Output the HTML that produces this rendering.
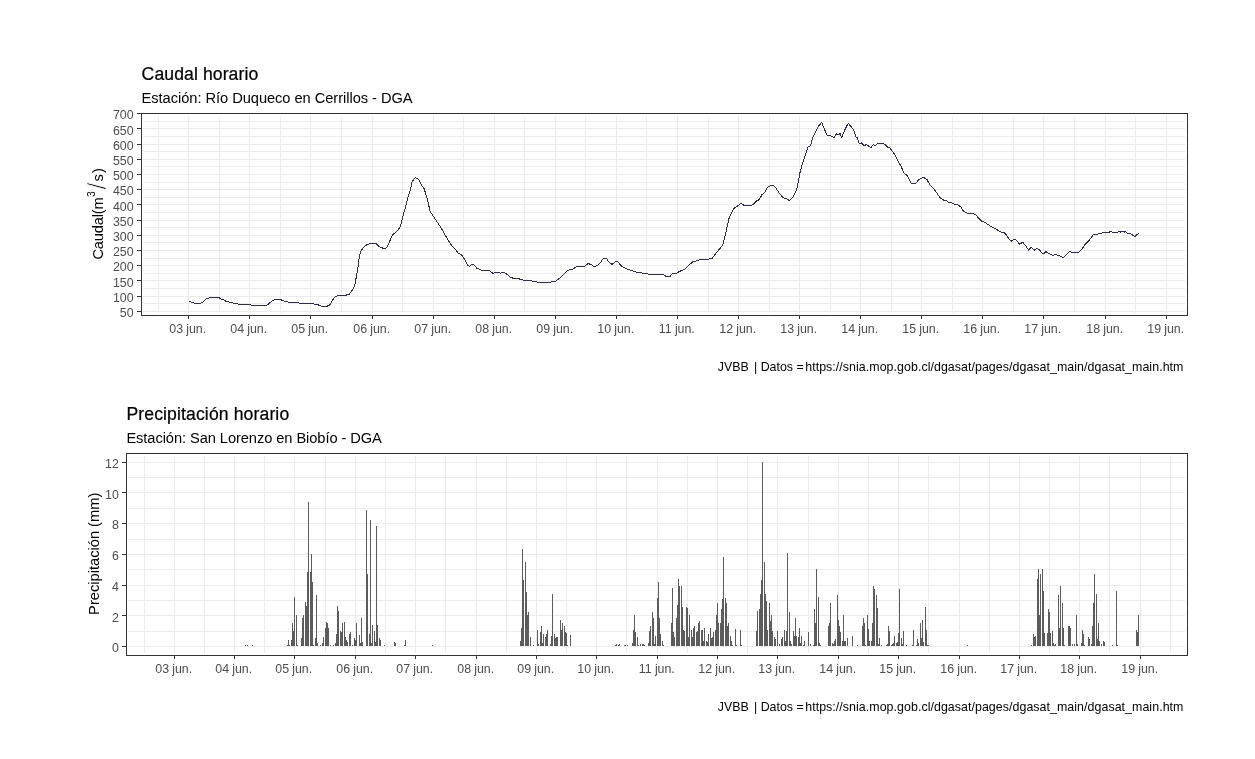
<!DOCTYPE html>
<html lang="es"><head><meta charset="utf-8"><title>Caudal y precipitación horario</title>
<style>
html,body{margin:0;padding:0;background:#fff;}
body{width:1255px;height:759px;overflow:hidden;}
svg{display:block;font-family:"Liberation Sans", Arial, sans-serif;}
.t{font-size:17.6px;fill:#000;stroke:#000;stroke-width:0.22px;}
.s{font-size:14.67px;fill:#000;}
.a{font-size:14.67px;fill:#000;}
.k{font-size:12.4px;fill:#4d4d4d;}
.c{font-size:12.4px;fill:#000;}
.gM{stroke:#ebebeb;stroke-width:1;}
.gm{stroke:#ececec;stroke-width:1;}
.tk{stroke:#333;stroke-width:1;}
.pb{fill:none;stroke:#333;stroke-width:1.2;}
</style></head><body>
<svg width="1255" height="759" viewBox="0 0 1255 759">
<rect width="1255" height="759" fill="#fff"/>

<g shape-rendering="crispEdges">
<line class="gm" x1="143.0" x2="1185.0" y1="303.5" y2="303.5"/>
<line class="gm" x1="143.0" x2="1185.0" y1="288.5" y2="288.5"/>
<line class="gm" x1="143.0" x2="1185.0" y1="273.5" y2="273.5"/>
<line class="gm" x1="143.0" x2="1185.0" y1="258.5" y2="258.5"/>
<line class="gm" x1="143.0" x2="1185.0" y1="242.5" y2="242.5"/>
<line class="gm" x1="143.0" x2="1185.0" y1="227.5" y2="227.5"/>
<line class="gm" x1="143.0" x2="1185.0" y1="212.5" y2="212.5"/>
<line class="gm" x1="143.0" x2="1185.0" y1="197.5" y2="197.5"/>
<line class="gm" x1="143.0" x2="1185.0" y1="182.5" y2="182.5"/>
<line class="gm" x1="143.0" x2="1185.0" y1="166.5" y2="166.5"/>
<line class="gm" x1="143.0" x2="1185.0" y1="151.5" y2="151.5"/>
<line class="gm" x1="143.0" x2="1185.0" y1="136.5" y2="136.5"/>
<line class="gm" x1="143.0" x2="1185.0" y1="121.5" y2="121.5"/>
<line class="gm" x1="158.5" x2="158.5" y1="116.0" y2="313.0"/>
<line class="gm" x1="219.5" x2="219.5" y1="116.0" y2="313.0"/>
<line class="gm" x1="280.5" x2="280.5" y1="116.0" y2="313.0"/>
<line class="gm" x1="341.5" x2="341.5" y1="116.0" y2="313.0"/>
<line class="gm" x1="402.5" x2="402.5" y1="116.0" y2="313.0"/>
<line class="gm" x1="463.5" x2="463.5" y1="116.0" y2="313.0"/>
<line class="gm" x1="524.5" x2="524.5" y1="116.0" y2="313.0"/>
<line class="gm" x1="585.5" x2="585.5" y1="116.0" y2="313.0"/>
<line class="gm" x1="646.5" x2="646.5" y1="116.0" y2="313.0"/>
<line class="gm" x1="708.5" x2="708.5" y1="116.0" y2="313.0"/>
<line class="gm" x1="769.5" x2="769.5" y1="116.0" y2="313.0"/>
<line class="gm" x1="830.5" x2="830.5" y1="116.0" y2="313.0"/>
<line class="gm" x1="891.5" x2="891.5" y1="116.0" y2="313.0"/>
<line class="gm" x1="952.5" x2="952.5" y1="116.0" y2="313.0"/>
<line class="gm" x1="1013.5" x2="1013.5" y1="116.0" y2="313.0"/>
<line class="gm" x1="1074.5" x2="1074.5" y1="116.0" y2="313.0"/>
<line class="gm" x1="1135.5" x2="1135.5" y1="116.0" y2="313.0"/>
<line class="gM" x1="143.0" x2="1185.0" y1="311.5" y2="311.5"/>
<line class="gM" x1="143.0" x2="1185.0" y1="296.5" y2="296.5"/>
<line class="gM" x1="143.0" x2="1185.0" y1="280.5" y2="280.5"/>
<line class="gM" x1="143.0" x2="1185.0" y1="265.5" y2="265.5"/>
<line class="gM" x1="143.0" x2="1185.0" y1="250.5" y2="250.5"/>
<line class="gM" x1="143.0" x2="1185.0" y1="235.5" y2="235.5"/>
<line class="gM" x1="143.0" x2="1185.0" y1="220.5" y2="220.5"/>
<line class="gM" x1="143.0" x2="1185.0" y1="204.5" y2="204.5"/>
<line class="gM" x1="143.0" x2="1185.0" y1="189.5" y2="189.5"/>
<line class="gM" x1="143.0" x2="1185.0" y1="174.5" y2="174.5"/>
<line class="gM" x1="143.0" x2="1185.0" y1="159.5" y2="159.5"/>
<line class="gM" x1="143.0" x2="1185.0" y1="144.5" y2="144.5"/>
<line class="gM" x1="143.0" x2="1185.0" y1="128.5" y2="128.5"/>
<line class="gM" x1="188.5" x2="188.5" y1="116.0" y2="313.0"/>
<line class="gM" x1="249.5" x2="249.5" y1="116.0" y2="313.0"/>
<line class="gM" x1="310.5" x2="310.5" y1="116.0" y2="313.0"/>
<line class="gM" x1="372.5" x2="372.5" y1="116.0" y2="313.0"/>
<line class="gM" x1="433.5" x2="433.5" y1="116.0" y2="313.0"/>
<line class="gM" x1="494.5" x2="494.5" y1="116.0" y2="313.0"/>
<line class="gM" x1="555.5" x2="555.5" y1="116.0" y2="313.0"/>
<line class="gM" x1="616.5" x2="616.5" y1="116.0" y2="313.0"/>
<line class="gM" x1="677.5" x2="677.5" y1="116.0" y2="313.0"/>
<line class="gM" x1="738.5" x2="738.5" y1="116.0" y2="313.0"/>
<line class="gM" x1="799.5" x2="799.5" y1="116.0" y2="313.0"/>
<line class="gM" x1="860.5" x2="860.5" y1="116.0" y2="313.0"/>
<line class="gM" x1="921.5" x2="921.5" y1="116.0" y2="313.0"/>
<line class="gM" x1="982.5" x2="982.5" y1="116.0" y2="313.0"/>
<line class="gM" x1="1043.5" x2="1043.5" y1="116.0" y2="313.0"/>
<line class="gM" x1="1105.5" x2="1105.5" y1="116.0" y2="313.0"/>
<line class="gM" x1="1166.5" x2="1166.5" y1="116.0" y2="313.0"/>
</g>
<polyline points="189.2,301.2 192.8,302.7 196.6,303.6 200.4,303.6 203.6,301.4 206.4,298.6 209.3,298.0 211.2,297.2 218.3,297.2 220.8,298.9 224.0,299.9 225.9,301.4 233.6,303.1 239.9,304.4 249.5,304.6 252.1,305.5 266.7,305.5 269.3,303.3 272.5,300.4 275.7,299.5 280.1,299.5 284.6,301.2 289.7,302.4 297.3,302.7 300.5,303.3 311.4,303.6 317.1,304.4 321.6,306.3 326.7,306.5 330.0,304.7 333.7,298.2 337.4,295.5 344.8,295.5 349.4,294.2 353.1,289.0 354.9,284.4 357.7,269.6 359.5,254.9 361.4,250.3 365.1,245.6 370.6,243.4 376.1,243.4 378.9,246.6 383.5,248.4 386.3,248.0 389.0,242.9 392.7,234.6 396.4,231.8 400.1,227.2 402.9,216.1 405.6,206.9 408.4,195.8 410.3,190.3 412.1,182.0 415.2,177.4 418.6,179.6 421.3,184.8 424.1,188.5 426.9,197.7 430.2,211.5 433.3,216.1 437.0,221.7 440.7,227.2 444.4,233.7 448.1,240.1 451.8,245.6 454.5,248.4 458.2,253.0 461.4,254.5 464.7,259.5 467.5,265.0 469.9,266.3 471.7,264.5 474.3,265.0 476.7,268.2 478.5,268.7 480.0,269.3 482.2,270.6 482.9,270.3 489.4,270.3 493.0,273.5 496.7,272.2 500.3,273.2 503.9,272.2 507.5,274.6 510.4,277.2 513.3,278.3 518.4,278.7 523.5,280.1 530.0,280.6 538.0,282.3 543.8,282.3 546.7,283.0 549.6,282.3 555.4,281.2 559.7,278.3 564.1,273.9 567.7,270.3 572.8,269.1 576.4,266.7 584.3,266.4 588.0,263.5 590.9,264.5 594.5,266.7 596.7,265.9 600.3,263.0 603.2,258.4 606.4,258.4 609.0,262.3 612.2,264.5 615.5,261.3 617.7,261.6 620.6,265.2 623.5,267.4 626.4,268.8 630.0,270.1 635.5,272.0 642.6,273.1 649.8,274.3 663.2,274.3 665.6,276.2 670.3,276.2 672.4,273.6 676.6,273.1 680.6,270.9 684.5,269.3 689.3,264.9 693.2,261.4 697.2,260.9 701.1,259.3 708.3,259.3 712.2,258.2 716.2,253.0 720.1,248.3 722.5,245.6 724.1,239.6 726.4,230.1 728.8,219.0 731.2,213.5 734.3,207.9 737.5,206.0 741.0,203.5 743.8,205.1 748.6,206.0 753.3,204.5 756.5,200.8 759.3,199.7 762.0,194.5 764.4,192.9 767.5,187.4 769.1,186.1 773.1,185.3 775.5,187.4 779.4,193.4 783.2,197.7 786.3,198.5 789.2,200.6 792.6,197.7 795.8,191.4 797.4,186.7 799.8,173.2 802.9,162.2 805.3,155.1 808.1,146.7 810.4,146.0 812.9,136.9 815.6,132.1 818.7,125.8 820.3,124.5 821.6,122.3 823.5,127.1 827.0,135.0 830.3,135.3 833.8,137.7 836.6,133.7 838.2,135.0 840.1,133.7 841.7,137.2 844.5,130.6 846.4,126.6 848.3,123.4 850.4,125.8 853.5,129.8 855.9,136.9 857.5,138.1 859.1,143.2 861.4,142.9 864.6,146.0 866.2,144.5 870.9,147.6 873.3,144.5 874.9,146.0 878.0,143.2 881.2,143.2 885.1,144.5 887.5,147.2 889.9,147.9 892.3,151.4 894.6,154.3 897.8,160.6 900.9,166.1 904.1,173.2 906.5,174.8 908.9,178.8 911.2,183.0 916.0,183.0 919.1,179.2 923.6,177.5 927.0,179.6 930.0,184.9 932.9,187.8 936.5,192.6 939.9,197.4 943.0,199.9 946.2,200.6 948.1,202.0 951.7,202.8 954.6,204.2 957.5,204.9 960.7,206.7 963.6,211.4 967.4,213.2 972.0,213.3 975.7,214.8 978.6,218.0 981.9,221.2 985.1,222.6 988.0,224.5 991.6,227.0 995.2,228.4 998.1,230.3 1001.0,232.2 1003.9,232.5 1006.8,235.4 1009.0,239.0 1011.2,241.4 1013.8,239.0 1016.7,240.4 1019.6,244.1 1022.8,242.3 1025.7,245.8 1028.6,250.1 1031.4,247.2 1034.3,250.1 1037.2,248.1 1040.1,250.6 1043.0,254.2 1045.9,251.6 1048.8,253.5 1052.5,255.4 1055.8,254.5 1059.7,255.9 1063.3,257.5 1066.2,254.9 1069.9,251.0 1071.6,252.4 1072.8,252.3 1078.4,252.4 1081.6,249.6 1084.2,245.5 1087.4,242.2 1091.6,237.4 1093.2,234.3 1097.4,234.3 1099.0,233.4 1101.6,233.2 1103.2,232.4 1109.0,232.4 1110.9,231.2 1112.2,232.4 1117.4,232.4 1118.7,231.2 1120.4,232.2 1121.7,231.2 1123.8,231.3 1124.8,232.4 1125.7,231.6 1127.5,233.4 1130.6,233.5 1132.7,235.3 1134.8,236.6 1136.9,234.8 1138.7,233.4" fill="none" stroke="#2e2e48" stroke-width="1" stroke-linejoin="round" shape-rendering="crispEdges"/>
<rect class="pb" x="141.5" y="113.5" width="1046.0" height="202.0" shape-rendering="crispEdges"/>
<g shape-rendering="crispEdges">
<line class="tk" x1="137.0" x2="141.5" y1="311.5" y2="311.5"/>
<line class="tk" x1="137.0" x2="141.5" y1="296.5" y2="296.5"/>
<line class="tk" x1="137.0" x2="141.5" y1="280.5" y2="280.5"/>
<line class="tk" x1="137.0" x2="141.5" y1="265.5" y2="265.5"/>
<line class="tk" x1="137.0" x2="141.5" y1="250.5" y2="250.5"/>
<line class="tk" x1="137.0" x2="141.5" y1="235.5" y2="235.5"/>
<line class="tk" x1="137.0" x2="141.5" y1="220.5" y2="220.5"/>
<line class="tk" x1="137.0" x2="141.5" y1="204.5" y2="204.5"/>
<line class="tk" x1="137.0" x2="141.5" y1="189.5" y2="189.5"/>
<line class="tk" x1="137.0" x2="141.5" y1="174.5" y2="174.5"/>
<line class="tk" x1="137.0" x2="141.5" y1="159.5" y2="159.5"/>
<line class="tk" x1="137.0" x2="141.5" y1="144.5" y2="144.5"/>
<line class="tk" x1="137.0" x2="141.5" y1="128.5" y2="128.5"/>
<line class="tk" x1="137.0" x2="141.5" y1="113.5" y2="113.5"/>
<line class="tk" x1="188.5" x2="188.5" y1="315.5" y2="319.0"/>
<line class="tk" x1="249.5" x2="249.5" y1="315.5" y2="319.0"/>
<line class="tk" x1="310.5" x2="310.5" y1="315.5" y2="319.0"/>
<line class="tk" x1="372.5" x2="372.5" y1="315.5" y2="319.0"/>
<line class="tk" x1="433.5" x2="433.5" y1="315.5" y2="319.0"/>
<line class="tk" x1="494.5" x2="494.5" y1="315.5" y2="319.0"/>
<line class="tk" x1="555.5" x2="555.5" y1="315.5" y2="319.0"/>
<line class="tk" x1="616.5" x2="616.5" y1="315.5" y2="319.0"/>
<line class="tk" x1="677.5" x2="677.5" y1="315.5" y2="319.0"/>
<line class="tk" x1="738.5" x2="738.5" y1="315.5" y2="319.0"/>
<line class="tk" x1="799.5" x2="799.5" y1="315.5" y2="319.0"/>
<line class="tk" x1="860.5" x2="860.5" y1="315.5" y2="319.0"/>
<line class="tk" x1="921.5" x2="921.5" y1="315.5" y2="319.0"/>
<line class="tk" x1="982.5" x2="982.5" y1="315.5" y2="319.0"/>
<line class="tk" x1="1043.5" x2="1043.5" y1="315.5" y2="319.0"/>
<line class="tk" x1="1105.5" x2="1105.5" y1="315.5" y2="319.0"/>
<line class="tk" x1="1166.5" x2="1166.5" y1="315.5" y2="319.0"/>
</g>
<text class="k" x="133.6" y="316.9" text-anchor="end">50</text>
<text class="k" x="133.6" y="301.7" text-anchor="end">100</text>
<text class="k" x="133.6" y="286.5" text-anchor="end">150</text>
<text class="k" x="133.6" y="271.3" text-anchor="end">200</text>
<text class="k" x="133.6" y="256.1" text-anchor="end">250</text>
<text class="k" x="133.6" y="240.9" text-anchor="end">300</text>
<text class="k" x="133.6" y="225.7" text-anchor="end">350</text>
<text class="k" x="133.6" y="210.5" text-anchor="end">400</text>
<text class="k" x="133.6" y="195.3" text-anchor="end">450</text>
<text class="k" x="133.6" y="180.2" text-anchor="end">500</text>
<text class="k" x="133.6" y="165.0" text-anchor="end">550</text>
<text class="k" x="133.6" y="149.8" text-anchor="end">600</text>
<text class="k" x="133.6" y="134.6" text-anchor="end">650</text>
<text class="k" x="133.6" y="119.4" text-anchor="end">700</text>
<text class="k" x="187.7" y="332.8" text-anchor="middle" letter-spacing="-0.08">03 jun.</text>
<text class="k" x="248.7" y="332.8" text-anchor="middle" letter-spacing="-0.08">04 jun.</text>
<text class="k" x="309.7" y="332.8" text-anchor="middle" letter-spacing="-0.08">05 jun.</text>
<text class="k" x="371.7" y="332.8" text-anchor="middle" letter-spacing="-0.08">06 jun.</text>
<text class="k" x="432.7" y="332.8" text-anchor="middle" letter-spacing="-0.08">07 jun.</text>
<text class="k" x="493.7" y="332.8" text-anchor="middle" letter-spacing="-0.08">08 jun.</text>
<text class="k" x="554.7" y="332.8" text-anchor="middle" letter-spacing="-0.08">09 jun.</text>
<text class="k" x="615.7" y="332.8" text-anchor="middle" letter-spacing="-0.08">10 jun.</text>
<text class="k" x="676.7" y="332.8" text-anchor="middle" letter-spacing="-0.08">11 jun.</text>
<text class="k" x="737.7" y="332.8" text-anchor="middle" letter-spacing="-0.08">12 jun.</text>
<text class="k" x="798.7" y="332.8" text-anchor="middle" letter-spacing="-0.08">13 jun.</text>
<text class="k" x="859.7" y="332.8" text-anchor="middle" letter-spacing="-0.08">14 jun.</text>
<text class="k" x="920.7" y="332.8" text-anchor="middle" letter-spacing="-0.08">15 jun.</text>
<text class="k" x="981.7" y="332.8" text-anchor="middle" letter-spacing="-0.08">16 jun.</text>
<text class="k" x="1042.7" y="332.8" text-anchor="middle" letter-spacing="-0.08">17 jun.</text>
<text class="k" x="1104.7" y="332.8" text-anchor="middle" letter-spacing="-0.08">18 jun.</text>
<text class="k" x="1165.7" y="332.8" text-anchor="middle" letter-spacing="-0.08">19 jun.</text>
<text class="t" x="141.6" y="79.6" textLength="116.6">Caudal horario</text>
<text class="s" x="141.6" y="103.2" textLength="271">Estación: Río Duqueco en Cerrillos - DGA</text>
<g transform="translate(103.2,0) rotate(-90)"><text class="a" x="-259.6" y="0" textLength="62.3">Caudal(m</text><text class="a" x="-197.1" y="-8.7" style="font-size:10.4px">3</text><text class="a" x="-189.4" y="3.1" style="font-size:25px;stroke:#fff;stroke-width:0.75px">/</text><text class="a" x="-181.6" y="0" style="letter-spacing:1.2px">s)</text></g>
<text class="c" y="370.7"><tspan x="717.7">JVBB</tspan><tspan x="754.0">| Datos =</tspan><tspan x="805.2" textLength="378.2">https://snia.mop.gob.cl/dgasat/pages/dgasat_main/dgasat_main.htm</tspan></text>
<g shape-rendering="crispEdges">
<line class="gm" x1="128.0" x2="1185.0" y1="631.5" y2="631.5"/>
<line class="gm" x1="128.0" x2="1185.0" y1="600.5" y2="600.5"/>
<line class="gm" x1="128.0" x2="1185.0" y1="569.5" y2="569.5"/>
<line class="gm" x1="128.0" x2="1185.0" y1="539.5" y2="539.5"/>
<line class="gm" x1="128.0" x2="1185.0" y1="508.5" y2="508.5"/>
<line class="gm" x1="128.0" x2="1185.0" y1="477.5" y2="477.5"/>
<line class="gm" x1="144.5" x2="144.5" y1="456.0" y2="653.0"/>
<line class="gm" x1="204.5" x2="204.5" y1="456.0" y2="653.0"/>
<line class="gm" x1="264.5" x2="264.5" y1="456.0" y2="653.0"/>
<line class="gm" x1="325.5" x2="325.5" y1="456.0" y2="653.0"/>
<line class="gm" x1="385.5" x2="385.5" y1="456.0" y2="653.0"/>
<line class="gm" x1="445.5" x2="445.5" y1="456.0" y2="653.0"/>
<line class="gm" x1="506.5" x2="506.5" y1="456.0" y2="653.0"/>
<line class="gm" x1="566.5" x2="566.5" y1="456.0" y2="653.0"/>
<line class="gm" x1="626.5" x2="626.5" y1="456.0" y2="653.0"/>
<line class="gm" x1="687.5" x2="687.5" y1="456.0" y2="653.0"/>
<line class="gm" x1="747.5" x2="747.5" y1="456.0" y2="653.0"/>
<line class="gm" x1="808.5" x2="808.5" y1="456.0" y2="653.0"/>
<line class="gm" x1="868.5" x2="868.5" y1="456.0" y2="653.0"/>
<line class="gm" x1="928.5" x2="928.5" y1="456.0" y2="653.0"/>
<line class="gm" x1="989.5" x2="989.5" y1="456.0" y2="653.0"/>
<line class="gm" x1="1049.5" x2="1049.5" y1="456.0" y2="653.0"/>
<line class="gm" x1="1109.5" x2="1109.5" y1="456.0" y2="653.0"/>
<line class="gm" x1="1170.5" x2="1170.5" y1="456.0" y2="653.0"/>
<line class="gM" x1="128.0" x2="1185.0" y1="646.5" y2="646.5"/>
<line class="gM" x1="128.0" x2="1185.0" y1="615.5" y2="615.5"/>
<line class="gM" x1="128.0" x2="1185.0" y1="585.5" y2="585.5"/>
<line class="gM" x1="128.0" x2="1185.0" y1="554.5" y2="554.5"/>
<line class="gM" x1="128.0" x2="1185.0" y1="523.5" y2="523.5"/>
<line class="gM" x1="128.0" x2="1185.0" y1="492.5" y2="492.5"/>
<line class="gM" x1="128.0" x2="1185.0" y1="462.5" y2="462.5"/>
<line class="gM" x1="174.5" x2="174.5" y1="456.0" y2="653.0"/>
<line class="gM" x1="234.5" x2="234.5" y1="456.0" y2="653.0"/>
<line class="gM" x1="294.5" x2="294.5" y1="456.0" y2="653.0"/>
<line class="gM" x1="355.5" x2="355.5" y1="456.0" y2="653.0"/>
<line class="gM" x1="415.5" x2="415.5" y1="456.0" y2="653.0"/>
<line class="gM" x1="476.5" x2="476.5" y1="456.0" y2="653.0"/>
<line class="gM" x1="536.5" x2="536.5" y1="456.0" y2="653.0"/>
<line class="gM" x1="596.5" x2="596.5" y1="456.0" y2="653.0"/>
<line class="gM" x1="657.5" x2="657.5" y1="456.0" y2="653.0"/>
<line class="gM" x1="717.5" x2="717.5" y1="456.0" y2="653.0"/>
<line class="gM" x1="777.5" x2="777.5" y1="456.0" y2="653.0"/>
<line class="gM" x1="838.5" x2="838.5" y1="456.0" y2="653.0"/>
<line class="gM" x1="898.5" x2="898.5" y1="456.0" y2="653.0"/>
<line class="gM" x1="959.5" x2="959.5" y1="456.0" y2="653.0"/>
<line class="gM" x1="1019.5" x2="1019.5" y1="456.0" y2="653.0"/>
<line class="gM" x1="1079.5" x2="1079.5" y1="456.0" y2="653.0"/>
<line class="gM" x1="1140.5" x2="1140.5" y1="456.0" y2="653.0"/>
</g>
<path d="M245 645h1V646h-1zM247 645h1V646h-1zM252 645h1V646h-1zM287 645h1V646h-1zM288 640h1V646h-1zM289 645h1V646h-1zM291 640h1V646h-1zM292 623h1V646h-1zM293 631h1V646h-1zM294 597h1V646h-1zM296 615h1V646h-1zM297 645h1V646h-1zM301 638h1V646h-1zM302 618h1V646h-1zM303 615h1V646h-1zM305 602h1V646h-1zM306 606h1V646h-1zM307 572h1V646h-1zM308 502h1V646h-1zM310 572h1V646h-1zM311 554h1V646h-1zM312 582h1V646h-1zM313 645h1V646h-1zM315 638h1V646h-1zM316 595h1V646h-1zM317 643h1V646h-1zM320 645h1V646h-1zM322 643h1V646h-1zM323 637h1V646h-1zM325 628h1V646h-1zM326 622h1V646h-1zM327 623h1V646h-1zM328 628h1V646h-1zM330 645h1V646h-1zM333 645h1V646h-1zM335 643h1V646h-1zM336 634h1V646h-1zM337 606h1V646h-1zM338 611h1V646h-1zM340 631h1V646h-1zM341 632h1V646h-1zM342 623h1V646h-1zM344 622h1V646h-1zM345 637h1V646h-1zM346 640h1V646h-1zM347 642h1V646h-1zM349 634h1V646h-1zM350 632h1V646h-1zM352 645h1V646h-1zM354 638h1V646h-1zM355 640h1V646h-1zM356 623h1V646h-1zM359 635h1V646h-1zM360 643h1V646h-1zM361 618h1V646h-1zM362 642h1V646h-1zM366 510h1V646h-1zM367 574h1V646h-1zM369 634h1V646h-1zM370 520h1V646h-1zM371 643h1V646h-1zM372 625h1V646h-1zM374 631h1V646h-1zM375 642h1V646h-1zM376 526h1V646h-1zM377 625h1V646h-1zM379 638h1V646h-1zM380 640h1V646h-1zM384 645h1V646h-1zM394 642h1V646h-1zM395 643h1V646h-1zM404 645h1V646h-1zM405 640h1V646h-1zM432 645h1V646h-1zM520 641h1V646h-1zM521 628h1V646h-1zM522 549h1V646h-1zM523 580h1V646h-1zM525 562h1V646h-1zM526 592h1V646h-1zM527 615h1V646h-1zM528 612h1V646h-1zM530 637h1V646h-1zM533 645h1V646h-1zM537 630h1V646h-1zM538 644h1V646h-1zM540 632h1V646h-1zM541 626h1V646h-1zM542 643h1V646h-1zM543 634h1V646h-1zM545 637h1V646h-1zM546 634h1V646h-1zM547 630h1V646h-1zM550 644h1V646h-1zM551 636h1V646h-1zM552 594h1V646h-1zM554 634h1V646h-1zM555 638h1V646h-1zM556 637h1V646h-1zM557 637h1V646h-1zM560 620h1V646h-1zM561 630h1V646h-1zM562 623h1V646h-1zM564 626h1V646h-1zM565 632h1V646h-1zM566 633h1V646h-1zM567 645h1V646h-1zM570 635h1V646h-1zM615 645h1V646h-1zM616 644h1V646h-1zM618 645h1V646h-1zM619 644h1V646h-1zM624 645h1V646h-1zM625 645h1V646h-1zM627 645h1V646h-1zM632 643h1V646h-1zM633 630h1V646h-1zM634 615h1V646h-1zM635 632h1V646h-1zM637 637h1V646h-1zM638 645h1V646h-1zM640 644h1V646h-1zM642 644h1V646h-1zM643 644h1V646h-1zM644 645h1V646h-1zM648 643h1V646h-1zM649 631h1V646h-1zM650 626h1V646h-1zM652 612h1V646h-1zM653 618h1V646h-1zM654 644h1V646h-1zM655 636h1V646h-1zM657 598h1V646h-1zM658 582h1V646h-1zM659 618h1V646h-1zM660 634h1V646h-1zM662 641h1V646h-1zM663 645h1V646h-1zM671 623h1V646h-1zM672 588h1V646h-1zM673 632h1V646h-1zM674 637h1V646h-1zM676 618h1V646h-1zM677 605h1V646h-1zM678 579h1V646h-1zM679 586h1V646h-1zM681 586h1V646h-1zM682 607h1V646h-1zM683 630h1V646h-1zM684 631h1V646h-1zM686 607h1V646h-1zM687 608h1V646h-1zM688 637h1V646h-1zM689 615h1V646h-1zM691 630h1V646h-1zM692 637h1V646h-1zM693 628h1V646h-1zM694 626h1V646h-1zM696 632h1V646h-1zM697 631h1V646h-1zM698 623h1V646h-1zM699 621h1V646h-1zM701 630h1V646h-1zM702 630h1V646h-1zM703 641h1V646h-1zM704 628h1V646h-1zM706 641h1V646h-1zM707 642h1V646h-1zM708 634h1V646h-1zM710 628h1V646h-1zM711 638h1V646h-1zM712 637h1V646h-1zM713 632h1V646h-1zM715 630h1V646h-1zM716 615h1V646h-1zM717 603h1V646h-1zM718 623h1V646h-1zM720 623h1V646h-1zM721 609h1V646h-1zM722 599h1V646h-1zM723 557h1V646h-1zM725 598h1V646h-1zM726 603h1V646h-1zM727 626h1V646h-1zM728 623h1V646h-1zM730 636h1V646h-1zM731 641h1V646h-1zM732 645h1V646h-1zM735 629h1V646h-1zM736 645h1V646h-1zM740 630h1V646h-1zM741 645h1V646h-1zM756 631h1V646h-1zM757 611h1V646h-1zM759 609h1V646h-1zM760 594h1V646h-1zM761 580h1V646h-1zM762 462h1V646h-1zM764 562h1V646h-1zM765 594h1V646h-1zM766 601h1V646h-1zM767 630h1V646h-1zM769 603h1V646h-1zM770 621h1V646h-1zM771 615h1V646h-1zM772 631h1V646h-1zM774 637h1V646h-1zM775 639h1V646h-1zM777 631h1V646h-1zM779 644h1V646h-1zM781 639h1V646h-1zM782 637h1V646h-1zM784 630h1V646h-1zM785 641h1V646h-1zM786 631h1V646h-1zM787 553h1V646h-1zM789 612h1V646h-1zM790 641h1V646h-1zM791 644h1V646h-1zM793 631h1V646h-1zM794 636h1V646h-1zM795 618h1V646h-1zM796 636h1V646h-1zM798 637h1V646h-1zM799 628h1V646h-1zM800 643h1V646h-1zM801 636h1V646h-1zM803 645h1V646h-1zM804 641h1V646h-1zM808 632h1V646h-1zM810 644h1V646h-1zM813 645h1V646h-1zM814 609h1V646h-1zM815 623h1V646h-1zM816 569h1V646h-1zM818 597h1V646h-1zM819 643h1V646h-1zM820 645h1V646h-1zM828 626h1V646h-1zM829 623h1V646h-1zM830 603h1V646h-1zM832 643h1V646h-1zM833 644h1V646h-1zM834 641h1V646h-1zM835 639h1V646h-1zM837 595h1V646h-1zM838 620h1V646h-1zM839 626h1V646h-1zM840 632h1V646h-1zM842 641h1V646h-1zM843 615h1V646h-1zM844 641h1V646h-1zM845 641h1V646h-1zM847 638h1V646h-1zM852 636h1V646h-1zM857 645h1V646h-1zM862 626h1V646h-1zM863 618h1V646h-1zM864 623h1V646h-1zM865 645h1V646h-1zM867 615h1V646h-1zM868 629h1V646h-1zM869 641h1V646h-1zM871 641h1V646h-1zM872 623h1V646h-1zM873 586h1V646h-1zM874 589h1V646h-1zM876 595h1V646h-1zM877 608h1V646h-1zM878 644h1V646h-1zM879 638h1V646h-1zM881 645h1V646h-1zM886 645h1V646h-1zM887 644h1V646h-1zM888 626h1V646h-1zM889 631h1V646h-1zM891 645h1V646h-1zM892 644h1V646h-1zM893 643h1V646h-1zM894 636h1V646h-1zM896 643h1V646h-1zM897 642h1V646h-1zM898 633h1V646h-1zM899 589h1V646h-1zM901 638h1V646h-1zM902 644h1V646h-1zM903 631h1V646h-1zM906 645h1V646h-1zM912 645h1V646h-1zM913 630h1V646h-1zM916 645h1V646h-1zM917 639h1V646h-1zM918 643h1V646h-1zM920 623h1V646h-1zM921 638h1V646h-1zM922 620h1V646h-1zM923 642h1V646h-1zM925 607h1V646h-1zM926 630h1V646h-1zM927 645h1V646h-1zM928 645h1V646h-1zM967 645h1V646h-1zM1031 645h1V646h-1zM1033 634h1V646h-1zM1034 637h1V646h-1zM1035 636h1V646h-1zM1037 579h1V646h-1zM1038 569h1V646h-1zM1039 615h1V646h-1zM1040 574h1V646h-1zM1042 569h1V646h-1zM1043 591h1V646h-1zM1044 633h1V646h-1zM1047 633h1V646h-1zM1048 609h1V646h-1zM1049 612h1V646h-1zM1050 633h1V646h-1zM1052 631h1V646h-1zM1053 643h1V646h-1zM1054 645h1V646h-1zM1055 644h1V646h-1zM1058 595h1V646h-1zM1059 628h1V646h-1zM1060 586h1V646h-1zM1062 603h1V646h-1zM1063 628h1V646h-1zM1064 645h1V646h-1zM1068 626h1V646h-1zM1069 626h1V646h-1zM1070 628h1V646h-1zM1072 644h1V646h-1zM1074 644h1V646h-1zM1076 615h1V646h-1zM1077 644h1V646h-1zM1081 643h1V646h-1zM1082 630h1V646h-1zM1083 634h1V646h-1zM1084 645h1V646h-1zM1088 637h1V646h-1zM1089 639h1V646h-1zM1091 644h1V646h-1zM1092 626h1V646h-1zM1093 603h1V646h-1zM1094 574h1V646h-1zM1096 594h1V646h-1zM1097 639h1V646h-1zM1098 623h1V646h-1zM1099 641h1V646h-1zM1101 644h1V646h-1zM1103 641h1V646h-1zM1104 642h1V646h-1zM1112 645h1V646h-1zM1116 591h1V646h-1zM1117 645h1V646h-1zM1136 630h1V646h-1zM1137 632h1V646h-1zM1138 615h1V646h-1z" fill="#5c5c5c" shape-rendering="crispEdges"/>
<rect class="pb" x="126.5" y="453.5" width="1061.0" height="202.0" shape-rendering="crispEdges"/>
<g shape-rendering="crispEdges">
<line class="tk" x1="122.0" x2="126.5" y1="646.5" y2="646.5"/>
<line class="tk" x1="122.0" x2="126.5" y1="615.5" y2="615.5"/>
<line class="tk" x1="122.0" x2="126.5" y1="585.5" y2="585.5"/>
<line class="tk" x1="122.0" x2="126.5" y1="554.5" y2="554.5"/>
<line class="tk" x1="122.0" x2="126.5" y1="523.5" y2="523.5"/>
<line class="tk" x1="122.0" x2="126.5" y1="492.5" y2="492.5"/>
<line class="tk" x1="122.0" x2="126.5" y1="462.5" y2="462.5"/>
<line class="tk" x1="174.5" x2="174.5" y1="655.5" y2="659.0"/>
<line class="tk" x1="234.5" x2="234.5" y1="655.5" y2="659.0"/>
<line class="tk" x1="294.5" x2="294.5" y1="655.5" y2="659.0"/>
<line class="tk" x1="355.5" x2="355.5" y1="655.5" y2="659.0"/>
<line class="tk" x1="415.5" x2="415.5" y1="655.5" y2="659.0"/>
<line class="tk" x1="476.5" x2="476.5" y1="655.5" y2="659.0"/>
<line class="tk" x1="536.5" x2="536.5" y1="655.5" y2="659.0"/>
<line class="tk" x1="596.5" x2="596.5" y1="655.5" y2="659.0"/>
<line class="tk" x1="657.5" x2="657.5" y1="655.5" y2="659.0"/>
<line class="tk" x1="717.5" x2="717.5" y1="655.5" y2="659.0"/>
<line class="tk" x1="777.5" x2="777.5" y1="655.5" y2="659.0"/>
<line class="tk" x1="838.5" x2="838.5" y1="655.5" y2="659.0"/>
<line class="tk" x1="898.5" x2="898.5" y1="655.5" y2="659.0"/>
<line class="tk" x1="959.5" x2="959.5" y1="655.5" y2="659.0"/>
<line class="tk" x1="1019.5" x2="1019.5" y1="655.5" y2="659.0"/>
<line class="tk" x1="1079.5" x2="1079.5" y1="655.5" y2="659.0"/>
<line class="tk" x1="1140.5" x2="1140.5" y1="655.5" y2="659.0"/>
</g>
<text class="k" x="118.8" y="652.3" text-anchor="end">0</text>
<text class="k" x="118.8" y="621.6" text-anchor="end">2</text>
<text class="k" x="118.8" y="590.8" text-anchor="end">4</text>
<text class="k" x="118.8" y="560.1" text-anchor="end">6</text>
<text class="k" x="118.8" y="529.3" text-anchor="end">8</text>
<text class="k" x="118.8" y="498.6" text-anchor="end">10</text>
<text class="k" x="118.8" y="467.8" text-anchor="end">12</text>
<text class="k" x="173.7" y="672.8" text-anchor="middle" letter-spacing="-0.08">03 jun.</text>
<text class="k" x="233.7" y="672.8" text-anchor="middle" letter-spacing="-0.08">04 jun.</text>
<text class="k" x="293.7" y="672.8" text-anchor="middle" letter-spacing="-0.08">05 jun.</text>
<text class="k" x="354.7" y="672.8" text-anchor="middle" letter-spacing="-0.08">06 jun.</text>
<text class="k" x="414.7" y="672.8" text-anchor="middle" letter-spacing="-0.08">07 jun.</text>
<text class="k" x="475.7" y="672.8" text-anchor="middle" letter-spacing="-0.08">08 jun.</text>
<text class="k" x="535.7" y="672.8" text-anchor="middle" letter-spacing="-0.08">09 jun.</text>
<text class="k" x="595.7" y="672.8" text-anchor="middle" letter-spacing="-0.08">10 jun.</text>
<text class="k" x="656.7" y="672.8" text-anchor="middle" letter-spacing="-0.08">11 jun.</text>
<text class="k" x="716.7" y="672.8" text-anchor="middle" letter-spacing="-0.08">12 jun.</text>
<text class="k" x="776.7" y="672.8" text-anchor="middle" letter-spacing="-0.08">13 jun.</text>
<text class="k" x="837.7" y="672.8" text-anchor="middle" letter-spacing="-0.08">14 jun.</text>
<text class="k" x="897.7" y="672.8" text-anchor="middle" letter-spacing="-0.08">15 jun.</text>
<text class="k" x="958.7" y="672.8" text-anchor="middle" letter-spacing="-0.08">16 jun.</text>
<text class="k" x="1018.7" y="672.8" text-anchor="middle" letter-spacing="-0.08">17 jun.</text>
<text class="k" x="1078.7" y="672.8" text-anchor="middle" letter-spacing="-0.08">18 jun.</text>
<text class="k" x="1139.7" y="672.8" text-anchor="middle" letter-spacing="-0.08">19 jun.</text>
<text class="t" x="126.4" y="419.6" textLength="162.8">Precipitación horario</text>
<text class="s" x="126.4" y="442.9" textLength="255.5">Estación: San Lorenzo en Biobío - DGA</text>
<text class="a" transform="translate(98.8,553.8) rotate(-90)" text-anchor="middle">Precipitación (mm)</text>
<text class="c" y="710.7"><tspan x="717.7">JVBB</tspan><tspan x="754.0">| Datos =</tspan><tspan x="805.2" textLength="378.2">https://snia.mop.gob.cl/dgasat/pages/dgasat_main/dgasat_main.htm</tspan></text>
</svg></body></html>
